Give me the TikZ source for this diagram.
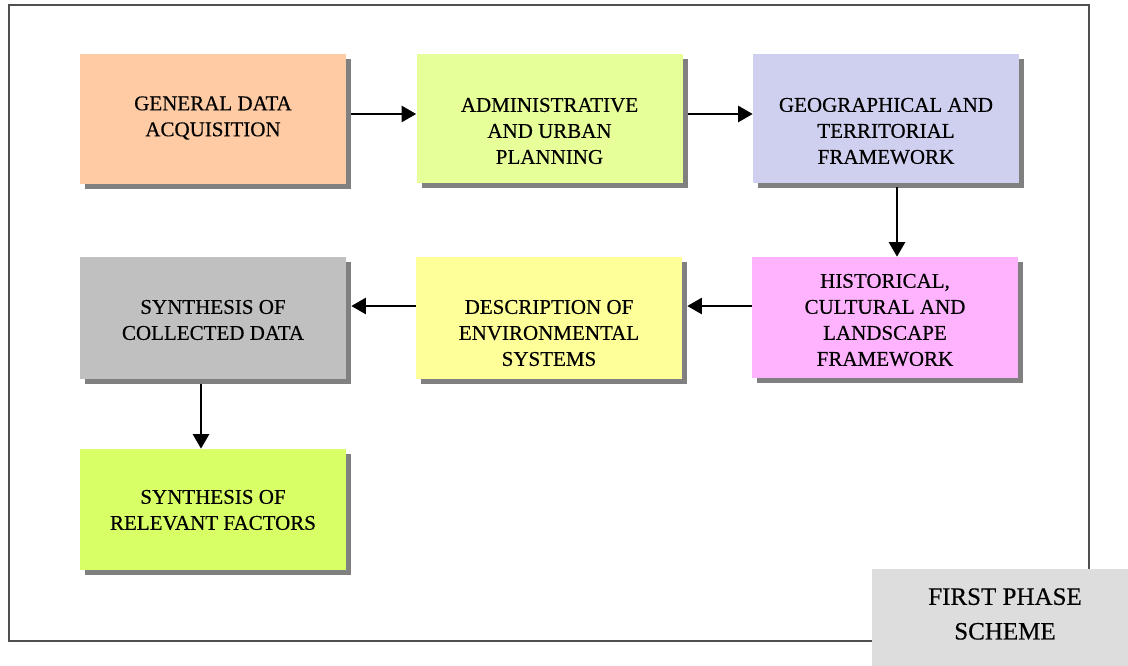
\documentclass[tikz,border=0pt]{standalone}
\usepackage{fontspec}
\setmainfont{Liberation Serif}[FakeBold=0.4]
\newfontfamily\labfont{Liberation Serif}[FakeBold=0.4]
\usetikzlibrary{shadows,arrows.meta,calc}
\definecolor{cPeach}{HTML}{FFCBA5}
\definecolor{cLime}{HTML}{E6FF99}
\definecolor{cLav}{HTML}{CFCFEF}
\definecolor{cGray}{HTML}{C0C0C0}
\definecolor{cYel}{HTML}{FFFF99}
\definecolor{cPink}{HTML}{FFB3FF}
\definecolor{cGreen}{HTML}{D9FF66}
\definecolor{cLabel}{HTML}{DDDDDD}
\definecolor{cFrame}{HTML}{505050}
\begin{document}
\begin{tikzpicture}[x=0.75pt,y=-0.75pt,
  box/.style={draw=none,inner sep=0pt,minimum width=266*0.75pt,
    drop shadow={shadow xshift=3.75pt,shadow yshift=-3.75pt,fill=black!50,opacity=1}},
  txt/.style={align=center,inner sep=0pt,font=\fontsize{15.75pt}{19.5pt}\selectfont},
  arr/.style={line width=2.1pt,-{Triangle[length=11pt,width=12pt]}}]
\useasboundingbox (0,0) rectangle (1128,666);
% frame
\draw[cFrame,line width=1.5pt] (9,5) rectangle (1089,641);
% boxes
\node[box,fill=cPeach,minimum height=130*0.75pt] (b1) at (213,119) {};
\node[box,fill=cLime,minimum height=129*0.75pt] (b2) at (549.5,118.5) {};
\node[box,fill=cLav,minimum height=129*0.75pt] (b3) at (886,118.5) {};
\node[box,fill=cGray,minimum height=122*0.75pt] (b4) at (213,318) {};
\node[box,fill=cYel,minimum height=122*0.75pt] (b5) at (549,318) {};
\node[box,fill=cPink,minimum height=121*0.75pt] (b6) at (885,317.5) {};
\node[box,fill=cGreen,minimum height=121*0.75pt] (b7) at (213,509.5) {};
% texts
\node[txt] (t1) at (213,118) {GENERAL DATA\\ACQUISITION};
\node[txt] (t2) at (549.5,131) {ADMINISTRATIVE\\AND URBAN\\PLANNING};
\node[txt] (t3) at (886,131) {GEOGRAPHICAL AND\\TERRITORIAL\\FRAMEWORK};
\node[txt] (t4) at (213,320) {SYNTHESIS OF\\COLLECTED DATA};
\node[txt] (t5) at (549,333) {DESCRIPTION OF\\ENVIRONMENTAL\\SYSTEMS};
\node[txt] (t6) at (885,320) {HISTORICAL,\\CULTURAL AND\\LANDSCAPE\\FRAMEWORK};
\node[txt] (t7) at (213,510) {SYNTHESIS OF\\RELEVANT FACTORS};
% label
\node[fill=cLabel,inner sep=0pt,minimum width=256*0.75pt,minimum height=97*0.75pt] (lab) at (1000,617.5) {};
\node[align=center,inner sep=0pt,font=\labfont\fontsize{18.75pt}{26pt}\selectfont] (labt) at (1005,614) {FIRST PHASE\\SCHEME};
% arrows
\coordinate (r1) at (0,114);
\coordinate (r2) at (0,306);
\coordinate (c3) at (897,0);
\coordinate (c4) at (201,0);
\draw[arr] ($(b1.east |- r1)+(5,0)$) -- (b2.west |- r1);
\draw[arr] ($(b2.east |- r1)+(5,0)$) -- (b3.west |- r1);
\draw[arr] ($(c3 |- b3.south)+(0,4)$) -- (c3 |- b6.north);
\draw[arr] (b6.west |- r2) -- ($(b5.east |- r2)+(5,0)$);
\draw[arr] (b5.west |- r2) -- ($(b4.east |- r2)+(5,0)$);
\draw[arr] ($(c4 |- b4.south)+(0,5)$) -- (c4 |- b7.north);
\end{tikzpicture}
\end{document}
